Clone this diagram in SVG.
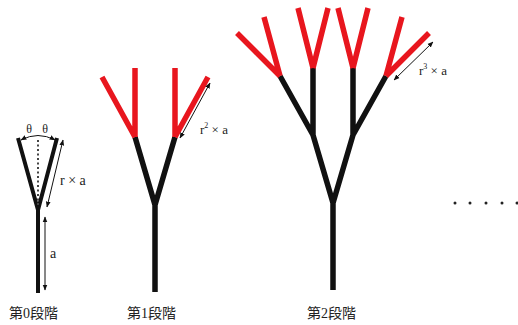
<svg xmlns="http://www.w3.org/2000/svg" width="518" height="325" viewBox="0 0 518 325">
<style>
.k{stroke:#111;fill:none;stroke-linecap:butt}
.r{stroke:#e8161e;fill:none}
.t{stroke-width:5.5}
.s0{stroke-width:4}
.dim{stroke:#111;stroke-width:1;fill:none;marker-start:url(#ah);marker-end:url(#ah)}
.lbl{font-family:"Liberation Serif","Noto Sans CJK JP",serif;fill:#222}
.cap{font-family:"Liberation Serif","Noto Sans CJK JP",serif;font-size:14px;fill:#222}
</style>
<defs>
<marker id="ah" viewBox="0 0 10 10" refX="9" refY="5" markerWidth="6" markerHeight="6" orient="auto-start-reverse" markerUnits="userSpaceOnUse">
<path d="M0,1 L10,5 L0,9 z" fill="#111"/>
</marker>
</defs>
<rect width="518" height="325" fill="#fff"/>
<g id="stage0">
<path class="k s0" d="M38,293 V210 M38,210 L18,138 M38,210 L57,138"/>
<path d="M38,140 V205" stroke="#444" stroke-width="2" stroke-dasharray="2,2.5" fill="none"/>
<path class="dim" d="M21,140 Q38,131 55,140"/>
<text class="lbl" x="29" y="133" font-size="12" text-anchor="middle">θ</text>
<text class="lbl" x="45" y="133" font-size="12" text-anchor="middle">θ</text>
<path class="dim" d="M63,140 L47,207"/>
<text class="lbl" x="60" y="185" font-size="14">r × a</text>
<path class="dim" d="M45,217 V290"/>
<text class="lbl" x="50" y="258" font-size="14">a</text>
<text class="cap" x="9" y="318">第0段階</text>
</g>
<g id="stage1">
<path class="k t" d="M155,292 V205 L135,137 M155,205 L175,137"/>
<path class="r t" d="M135,137 L102,77 M135,137 V68 M175,137 V68 M175,137 L208,77"/>
<path class="dim" d="M210,83 L180,138"/>
<text class="lbl" x="200" y="134" font-size="13">r<tspan font-size="8" dy="-6">2</tspan><tspan dy="6"> × a</tspan></text>
<text class="cap" x="127" y="318">第1段階</text>
</g>
<g id="stage2">
<path class="k t" d="M333,290 V203 L313,135 M333,203 L353,135 M313,135 V68 M313,135 L280,76 M353,135 V68 M353,135 L386,76"/>
<path class="r t" d="M280,76 L237,33 M280,76 L264,17 M313,68 L298,8 M313,68 L328,8 M353,68 L338,8 M353,68 L368,8 M386,76 L402,17 M386,76 L429,33"/>
<path class="dim" d="M433,42 L394,80"/>
<text class="lbl" x="419" y="75" font-size="13">r<tspan font-size="8" dy="-6">3</tspan><tspan dy="6"> × a</tspan></text>
<text class="cap" x="307" y="318">第2段階</text>
</g>
<g id="dots" fill="#222">
<circle cx="455" cy="203" r="1.5"/>
<circle cx="470" cy="203" r="1.5"/>
<circle cx="486" cy="203" r="1.5"/>
<circle cx="502" cy="203" r="1.5"/>
<circle cx="517" cy="203" r="1.5"/>
</g>
</svg>
